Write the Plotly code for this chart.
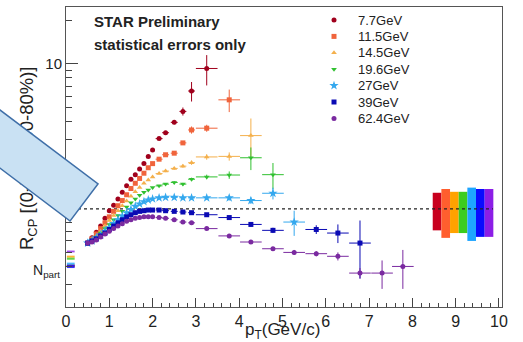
import math
import plotly.graph_objects as go

# ---------------- data ----------------
energies = ["7.7GeV", "11.5GeV", "14.5GeV", "19.6GeV", "27GeV", "39GeV", "62.4GeV"]

pt_fine = [0.5, 0.6, 0.7, 0.8, 0.9, 1.0, 1.1, 1.2, 1.3, 1.4, 1.5, 1.6, 1.7, 1.8, 1.9, 2.0,
           2.15, 2.3, 2.5, 2.7, 2.9]

pt_77 = pt_fine + [3.25]
r_77 = [0.58, 0.63, 0.69, 0.76, 0.86, 0.97, 1.06, 1.17, 1.30, 1.44, 1.60, 1.72, 1.88, 2.05, 2.30, 2.55,
        3.05, 3.35, 3.95, 4.7, 6.5, 9.3]
e_77 = [0.01] * 16 + [0.05, 0.07, 0.12, 0.3, 1.0, 2.2]

pt_115 = pt_fine + [3.25, 3.77]
r_115 = [0.58, 0.62, 0.67, 0.73, 0.80, 0.88, 0.96, 1.05, 1.14, 1.25, 1.38, 1.50, 1.62, 1.76, 1.92, 2.05,
         2.20, 2.36, 2.42, 2.85, 3.5, 3.6, 5.65]
e_115 = [0.01] * 16 + [0.03, 0.04, 0.05, 0.08, 0.2, 0.2, 1.0]

pt_145 = pt_fine + [3.25, 3.77, 4.27]
r_145 = [0.58, 0.61, 0.65, 0.70, 0.76, 0.83, 0.90, 0.97, 1.05, 1.13, 1.22, 1.31, 1.40, 1.50, 1.58, 1.66,
         1.75, 1.82, 1.90, 1.97, 2.08, 2.28, 2.30, 3.2]
e_145 = [0.01] * 16 + [0.02, 0.03, 0.04, 0.05, 0.07, 0.1, 0.15, 1.0]

pt_196 = pt_fine + [3.25, 3.77, 4.27, 4.78]
r_196 = [0.58, 0.61, 0.64, 0.68, 0.73, 0.78, 0.84, 0.90, 0.96, 1.03, 1.10, 1.17, 1.24, 1.30, 1.35, 1.40,
         1.44, 1.48, 1.52, 1.48, 1.60, 1.66, 1.71, 2.25, 1.72]
e_196 = [0.01] * 16 + [0.02, 0.02, 0.03, 0.03, 0.04, 0.06, 0.1, 0.4, 0.35]

pt_27 = pt_fine + [3.25, 3.77, 4.27, 4.78, 5.27]
r_27 = [0.58, 0.60, 0.63, 0.66, 0.70, 0.74, 0.79, 0.84, 0.89, 0.94, 0.99, 1.04, 1.08, 1.12, 1.15, 1.17,
        1.19, 1.20, 1.20, 1.19, 1.19, 1.19, 1.19, 1.14, 1.28, 0.81]
e_27 = [0.01] * 16 + [0.01, 0.02, 0.02, 0.02, 0.03, 0.04, 0.05, 0.06, 0.12, 0.16]

pt_39 = pt_fine + [3.25, 3.77, 4.27, 4.78, 5.78, 6.28, 6.79]
r_39 = [0.58, 0.60, 0.62, 0.65, 0.68, 0.72, 0.76, 0.80, 0.84, 0.88, 0.91, 0.94, 0.96, 0.97, 0.98, 0.98,
        0.98, 0.97, 0.96, 0.95, 0.94, 0.91, 0.87, 0.78, 0.71, 0.72, 0.68, 0.58]
e_39 = [0.005] * 16 + [0.01, 0.01, 0.01, 0.01, 0.01, 0.015, 0.02, 0.025, 0.03, 0.05, 0.1, 0.25]

pt_624 = pt_fine + [3.25, 3.77, 4.27, 4.78, 5.27, 5.78, 6.28, 6.79, 7.3, 7.78]
r_624 = [0.58, 0.59, 0.61, 0.64, 0.67, 0.70, 0.73, 0.76, 0.79, 0.82, 0.84, 0.86, 0.87, 0.88, 0.88, 0.88,
         0.87, 0.86, 0.84, 0.81, 0.80, 0.73, 0.65, 0.59, 0.53, 0.50, 0.49, 0.47, 0.36, 0.36, 0.40]
e_624 = [0.005] * 16 + [0.01, 0.01, 0.01, 0.01, 0.01, 0.01, 0.01, 0.015, 0.015, 0.02, 0.02, 0.03, 0.03, 0.08, 0.12]

series_pt = [pt_77, pt_115, pt_145, pt_196, pt_27, pt_39, pt_624]
series_r = [r_77, r_115, r_145, r_196, r_27, r_39, r_624]
series_e = [e_77, e_115, e_145, e_196, e_27, e_39, e_624]

# N_bin systematic boxes (right side) and N_part boxes (left)
nbin_lo = [0.71, 0.63, 0.68, 0.68, 0.60, 0.64, 0.64]
nbin_hi = [1.29, 1.37, 1.31, 1.31, 1.40, 1.37, 1.37]
npart_lo = [0.395, 0.40, 0.46, 0.445, 0.41, 0.39, 0.50]
npart_hi = [0.41, 0.415, 0.475, 0.46, 0.425, 0.41, 0.515]
ref_line = 1.0

# ---------------- style ----------------
colors = ["#a0001c", "#f0643c", "#f4b04c", "#30c030", "#34a8ee", "#0a0ab4", "#7a2aa0"]
box_colors = ["#c8001e", "#ff5e2e", "#ffa200", "#3ccc1e", "#1ea5ff", "#0a0aff", "#8c1ee6"]
symbols = ["circle", "square", "triangle-up", "triangle-down", "star", "square", "circle"]
FONT = "Liberation Sans, Arial, Helvetica, sans-serif"

fig = go.Figure()

# right-side N_bin boxes
for i in range(7):
    x0 = 8.47 + 0.2 * i
    x1 = x0 + 0.2
    fig.add_trace(go.Scatter(
        x=[x0, x1, x1, x0, x0], y=[nbin_lo[i], nbin_lo[i], nbin_hi[i], nbin_hi[i], nbin_lo[i]],
        mode="lines", fill="toself", fillcolor=box_colors[i], line=dict(width=0, color=box_colors[i]),
        hoverinfo="skip", showlegend=False))

# left-side N_part boxes
for i in range(7):
    x0, x1 = 0.02, 0.2
    fig.add_trace(go.Scatter(
        x=[x0, x1, x1, x0, x0], y=[npart_lo[i], npart_lo[i], npart_hi[i], npart_hi[i], npart_lo[i]],
        mode="lines", fill="toself", fillcolor=box_colors[i], line=dict(width=0, color=box_colors[i]),
        opacity=0.8, hoverinfo="skip", showlegend=False))

# dashed reference line
fig.add_trace(go.Scatter(x=[0.0, 9.86], y=[ref_line, ref_line], mode="lines",
                         line=dict(color="#222222", width=1.3, dash="3px,3px"),
                         hoverinfo="skip", showlegend=False))

# data
for i in range(7):
    pts = series_pt[i]
    ex = [0 if p <= 2.1 else (0.08 if p < 3.0 else 0.25) for p in pts]
    fig.add_trace(go.Scatter(
        x=pts, y=series_r[i], mode="markers", name=energies[i],
        marker=dict(symbol=symbols[i], color=colors[i], size=5 if symbols[i] != "star" else 7,
                    line=dict(width=0)),
        error_x=dict(type="data", array=ex, width=0, thickness=1, color=colors[i]),
        error_y=dict(type="data", array=series_e[i], width=0, thickness=1, color=colors[i]),
        showlegend=False, cliponaxis=True))

# manual legend on an overlay pixel-like axis
leg_x = 334
for i in range(7):
    ly = 20 + 16.4 * i
    fig.add_trace(go.Scatter(
        x=[leg_x], y=[ly], xaxis="x2", yaxis="y2", mode="markers",
        marker=dict(symbol=symbols[i], color=colors[i], size=5 if symbols[i] != "star" else 7),
        hoverinfo="skip", showlegend=False))

annotations = []
for i in range(7):
    ly = 20 + 16.4 * i
    annotations.append(dict(x=356, y=ly, xref="x2", yref="y2", text=energies[i], showarrow=False,
                            xanchor="left", yanchor="middle", font=dict(family=FONT, size=13, color="#222")))

annotations += [
    dict(x=92, y=21, xref="x2", yref="y2", text="<b>STAR Preliminary</b>", showarrow=False,
         xanchor="left", yanchor="middle", font=dict(family=FONT, size=15, color="#222")),
    dict(x=92, y=44, xref="x2", yref="y2", text="<b>statistical errors only</b>", showarrow=False,
         xanchor="left", yanchor="middle", font=dict(family=FONT, size=15, color="#222")),
    dict(x=(282 - 66) / 436, y=(307 - 331) / 300, xref="paper", yref="paper",
         text="p<sub>T</sub>(GeV/c)", showarrow=False, xanchor="center", yanchor="middle",
         font=dict(family=FONT, size=17, color="#222")),
    dict(x=(62 - 66) / 436, y=(307 - 271) / 300, xref="paper", yref="paper",
         text="N<sub>part</sub>", showarrow=False, xanchor="right", yanchor="middle",
         font=dict(family=FONT, size=14, color="#222")),
    dict(x=(28 - 66) / 436, y=(307 - 158) / 300, xref="paper", yref="paper",
         text="R<sub>CP</sub> [(0-5%)/(60-80%)]", textangle=-90, showarrow=False,
         xanchor="center", yanchor="middle", font=dict(family=FONT, size=18.5, color="#222")),
    # light-blue callout box overlay
    dict(x=(3.9 - 66) / 436, y=(307 - 142) / 300, xref="paper", yref="paper",
         text=" ", showarrow=False, xanchor="center", yanchor="middle", textangle=37,
         width=200, height=45, borderpad=0, bgcolor="#c9e1f3", bordercolor="#3f6fa8", borderwidth=1.5),
]

fig.update_layout(
    width=523, height=342,
    margin=dict(l=66, r=21, t=7, b=35),
    paper_bgcolor="white", plot_bgcolor="white",
    font=dict(family=FONT, color="#222"),
    showlegend=False,
    annotations=annotations,
    xaxis=dict(range=[0, 10.07], tickvals=list(range(11)), ticks="inside", ticklen=9,
               tickcolor="#444", tickwidth=1, showgrid=False, zeroline=False,
               showline=True, linecolor="#555", linewidth=1, mirror=True,
               tickfont=dict(family=FONT, size=16, color="#222"),
               minor=dict(tickvals=[k / 5 for k in range(51) if k % 5], ticks="inside", ticklen=4,
                          tickcolor="#444", showgrid=False)),
    yaxis=dict(type="log", range=[math.log10(0.21), math.log10(24.7)],
               tickvals=[1, 10], ticktext=["", "10"], ticks="inside", ticklen=12,
               tickcolor="#444", tickwidth=1, showgrid=False, zeroline=False,
               showline=True, linecolor="#555", linewidth=1, mirror=True,
               tickfont=dict(family=FONT, size=15, color="#222"),
               minor=dict(tickvals=[0.3, 0.4, 0.5, 0.6, 0.7, 0.8, 0.9, 2, 3, 4, 5, 6, 7, 8, 9, 20],
                          ticks="inside", ticklen=6, tickcolor="#444", showgrid=False)),
    xaxis2=dict(overlaying="x", anchor="y2", range=[66, 502], visible=False),
    yaxis2=dict(overlaying="y", anchor="x2", range=[307, 7], visible=False),
)

fig.write_html("out.html", config={"displayModeBar": False},
               post_script="document.body.style.margin='0';document.body.style.overflow='hidden';")
